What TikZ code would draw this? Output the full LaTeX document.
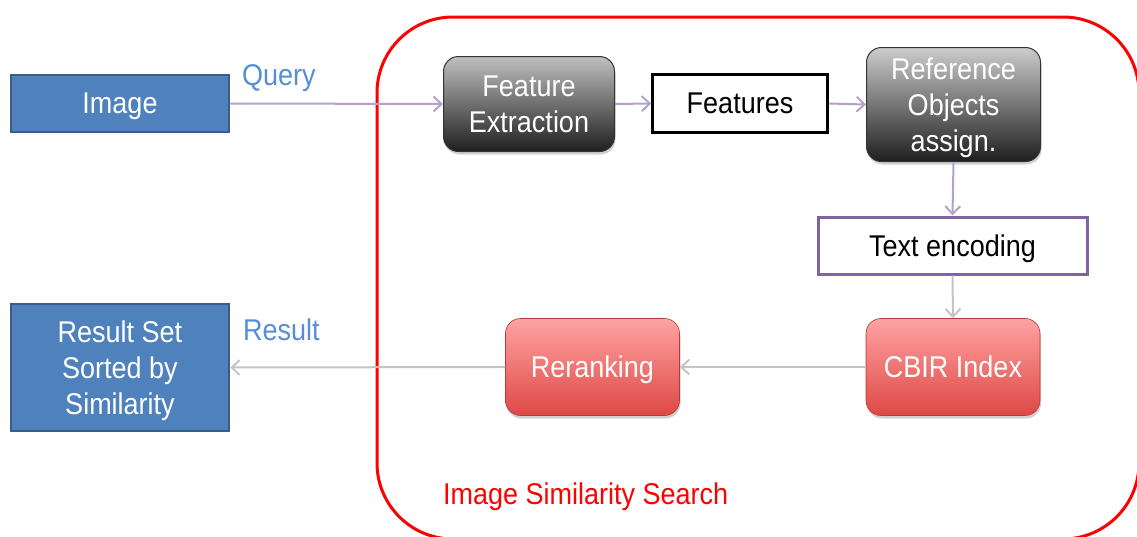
\documentclass[tikz,border=0pt]{standalone}
\usepackage{fontspec}
\setmainfont{Liberation Sans}[FakeStretch=0.9]
\usetikzlibrary{arrows.meta,shadows}

\definecolor{imgblue}{RGB}{79,129,189}
\definecolor{imgborder}{RGB}{56,93,138}
\definecolor{labelblue}{RGB}{85,142,213}
\definecolor{lavender}{RGB}{179,162,199}
\definecolor{lightgrey}{RGB}{196,196,196}
\definecolor{purpleborder}{RGB}{128,100,162}
\definecolor{redtop}{RGB}{255,163,163}
\definecolor{redbottom}{RGB}{222,72,69}

\tikzset{
  txt/.style={font=\fontsize{30}{36}\selectfont, align=center, inner sep=0pt, text depth=0pt},
  bluebox/.style={txt, rectangle, fill=imgblue, draw=imgborder, line width=2.5pt,
    text=white, minimum width=218pt, minimum height=57pt},
  greybox/.style={txt, rectangle, rounded corners=15pt, top color=black!25,
    bottom color=black!88, draw=black!80, line width=1pt, text=white,
    drop shadow={shadow xshift=1pt, shadow yshift=-3pt, opacity=0.3, fill=black!60}},
  redbox/.style={txt, rectangle, rounded corners=15pt, top color=redtop,
    bottom color=redbottom, draw=redbottom!80!black, line width=0.6pt, text=white,
    minimum width=174pt, minimum height=97pt,
    drop shadow={shadow xshift=1pt, shadow yshift=-3pt, opacity=0.3, fill=black!60}},
  plainbox/.style={txt, rectangle, fill=white, text=black},
  flowlav/.style={draw=lavender, line width=2pt, -{Straight Barb[length=8pt,width=15pt]}},
  flowgrey/.style={draw=lightgrey, line width=2pt, -{Straight Barb[length=8pt,width=15pt]}},
  tag/.style={font=\fontsize{30}{36}\selectfont, inner sep=0pt, text depth=0pt},
}

\begin{document}
\begin{tikzpicture}[x=1pt,y=-1pt]
\useasboundingbox (0,0) rectangle (1137,536);

% search area frame, cut off by the page edges
\begin{scope}
  \clip (0,0) rectangle (1137,536);
  \draw[red, line width=3pt, rounded corners=76pt] (377,17) rectangle (1139,539);
\end{scope}
\node[tag, text=red, anchor=west] (searchlabel) at (443,494) {Image Similarity Search};

% input and output
\node[bluebox] (img) at (120,103.5) {Image};
\node[bluebox, minimum height=127pt] (res) at (120,367.5) {Result Set\\Sorted by\\Similarity};
\node[tag, text=labelblue, anchor=west] (querylabel) at (242,75) {Query};
\node[tag, text=labelblue, anchor=west] (resultlabel) at (243,330) {Result};

% processing steps
\node[greybox, minimum width=171pt, minimum height=95pt] (fe) at (529,104) {Feature\\Extraction};
\node[plainbox, draw=black, line width=2.5pt, minimum width=175pt, minimum height=58pt] (feat) at (740,103.5) {Features};
\node[greybox, top color=black!20, minimum width=174pt, minimum height=114pt] (ref) at (953.5,104.5) {Reference\\Objects\\assign.};
\node[plainbox, draw=purpleborder, line width=3pt, minimum width=269pt, minimum height=57pt] (te) at (952.5,245.5) {Text encoding};
\node[redbox] (cbir) at (953,367) {CBIR Index};
\node[redbox] (rerank) at (592.5,367) {Reranking};

% connectors
\draw[flowlav] (img.east) -- (fe.west);
\draw[flowlav] (fe.east) -- (feat.west);
\draw[flowlav] (feat.east) -- (ref.west);
\draw[flowlav] (ref.south) -- (te.north);
\draw[flowgrey] (te.south) -- (cbir.north);
\draw[flowgrey] (cbir.west) -- (rerank.east);
\draw[flowgrey] (rerank.west) -- (res.east);
\end{tikzpicture}
\end{document}
